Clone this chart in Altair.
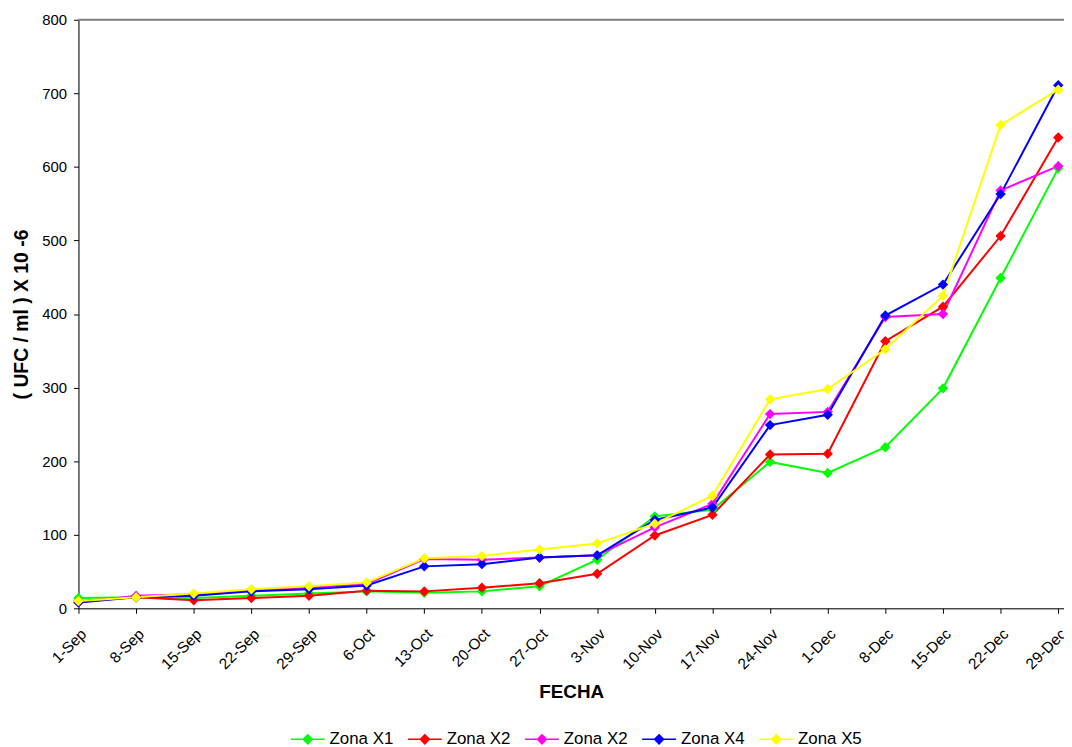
import json
import altair as alt
import pandas as pd

DATES = ["1-Sep", "8-Sep", "15-Sep", "22-Sep", "29-Sep", "6-Oct", "13-Oct", "20-Oct",
         "27-Oct", "3-Nov", "10-Nov", "17-Nov", "24-Nov", "1-Dec", "8-Dec", "15-Dec",
         "22-Dec", "29-Dec"]

SERIES_KEYS = ["s1", "s2", "s3", "s4", "s5"]
SERIES_LABELS = ["Zona X1", "Zona X2", "Zona X2", "Zona X4", "Zona X5"]
SERIES_COLORS = ["#00FF00", "#FF0000", "#FF00FF", "#0000FF", "#FFFF00"]

ZONA_X1 = [14, 15, 14, 17, 20, 23, 21, 23, 30, 66, 125, 134, 199, 184, 219, 299, 449, 598]
ZONA_X2 = [10, 15, 11, 14, 17, 24, 23, 28, 34, 47, 99, 127, 209, 210, 363, 410, 506, 640]
ZONA_X2B = [8, 17, 19, 24, 28, 33, 67, 66, 69, 72, 110, 142, 264, 267, 396, 400, 568, 601]
ZONA_X4 = [8, 15, 17, 23, 26, 31, 57, 60, 69, 72, 120, 137, 249, 263, 398, 440, 563, 711]
ZONA_X5 = [10, 15, 20, 26, 30, 35, 68, 71, 80, 88, 115, 153, 284, 298, 352, 425, 657, 705]

VALUES = [ZONA_X1, ZONA_X2, ZONA_X2B, ZONA_X4, ZONA_X5]

rows = []
for si, (key, vals) in enumerate(zip(SERIES_KEYS, VALUES)):
    for i, v in enumerate(vals):
        rows.append({"idx": i, "series": key, "order": si, "value": v})
df = pd.DataFrame(rows)

FONT = "Liberation Sans"

label_expr_x = json.dumps(DATES) + "[datum.value]"
label_map = "{" + ",".join(f"'{k}':'{l}'" for k, l in zip(SERIES_KEYS, SERIES_LABELS)) + "}"
label_expr_legend = label_map + "[datum.value]"

x = alt.X("idx:Q",
          scale=alt.Scale(domain=[0, 17.1], nice=False, zero=False),
          axis=alt.Axis(values=list(range(18)), labelExpr=label_expr_x, labelAngle=-45,
                        labelAlign="right", labelBaseline="top", labelFontSize=15.5,
                        labelFont=FONT, labelColor="#000000", grid=False,
                        domainColor="#000000", tickColor="#000000", tickSize=5,
                        labelPadding=13, labelOverlap=False,
                        title="FECHA", titleFont=FONT, titleFontSize=19,
                        titleFontWeight="bold", titleColor="#000000", titlePadding=11))
y = alt.Y("value:Q",
          scale=alt.Scale(domain=[0, 800], nice=False),
          axis=alt.Axis(values=list(range(0, 801, 100)), labelFontSize=15, labelFont=FONT,
                        labelColor="#000000", grid=False, domainColor="#000000",
                        tickColor="#000000", tickSize=5, labelPadding=7,
                        title="( UFC / ml ) X 10 -6", titleFont=FONT, titleFontSize=19.5,
                        titleFontWeight="bold", titleColor="#000000", titlePadding=10))

color = alt.Color("series:N",
                  scale=alt.Scale(domain=SERIES_KEYS, range=SERIES_COLORS),
                  legend=alt.Legend(title=None, orient="none", direction="horizontal",
                                    legendX=213, legendY=707, labelExpr=label_expr_legend,
                                    labelFont=FONT, labelFontSize=17, labelColor="#000000",
                                    symbolType="M-1,0L1,0M-0.27,0L0,-0.27L0.27,0L0,0.27Z",
                                    symbolSize=1156, symbolStrokeWidth=1.5,
                                    columnPadding=11, labelOffset=4))

lines = alt.Chart(df).mark_line(
    strokeWidth=2,
    point=alt.OverlayMarkDef(shape="diamond", filled=True, size=110, opacity=1),
).encode(x=x, y=y, color=color, order=alt.Order("idx:Q"), detail="series:N")

top_border = alt.Chart(pd.DataFrame({"v": [800]})).mark_rule(
    color="#808080", strokeWidth=2
).encode(y=alt.Y("v:Q"))

chart = alt.layer(lines, top_border).properties(
    width=993, height=593,
    autosize=alt.AutoSizeParams(type="none"),
    padding={"left": 71, "top": 9, "right": 0, "bottom": 150},
).configure_view(stroke=None).configure(background="#ffffff")

chart.save("out.html", embed_options={"renderer": "svg", "actions": False})
